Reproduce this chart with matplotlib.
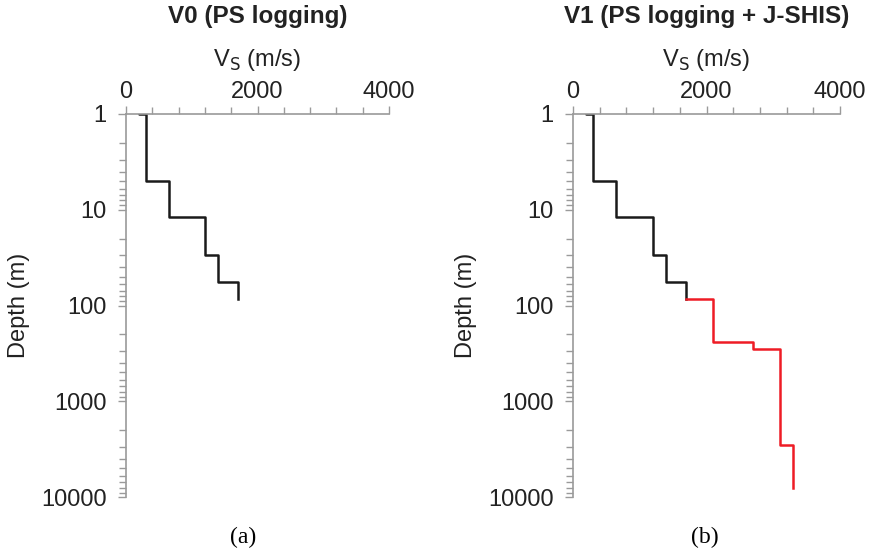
import numpy as np
import matplotlib.pyplot as plt

# PS logging layers (layer boundaries in m, Vs in m/s)
ps_depth = [0.5, 1, 5, 12, 30, 57, 85]
ps_vs = [200, 300, 650, 1200, 1400, 1700]

# J-SHIS deeper layers, start at the bottom of the PS log
jshis_depth = [85, 240, 285, 2880, 8100]
jshis_vs = [2100, 2700, 3100, 3300]

GRAY = '#9a9a9a'
FS = 17
plt.rcParams['font.family'] = ['Liberation Sans', 'DejaVu Sans']


def profile(depth, vs, v_start=None):
    # staircase: vertical segments at each Vs, horizontal at each boundary
    x, y = [], []
    if v_start is not None:
        x.append(v_start)
        y.append(depth[0])
    for i, v in enumerate(vs):
        x += [v, v]
        y += [depth[i], depth[i + 1]]
    return np.array(x), np.array(y)


def style_axes(ax, title, ylab_x):
    ax.set_yscale('log')
    ax.set_xlim(0, 4000)
    ax.set_ylim(10000, 1)
    ax.xaxis.tick_top()
    ax.xaxis.set_label_position('top')
    ax.set_xticks([0, 2000, 4000])
    ax.set_xticks(np.arange(0, 4001, 400), minor=True)
    ax.set_yticks([1, 10, 100, 1000, 10000])
    ax.set_yticklabels(['1', '10', '100', '1000', '10000'])
    for s in ['right', 'bottom']:
        ax.spines[s].set_visible(False)
    for s in ['left', 'top']:
        ax.spines[s].set_color(GRAY)
        ax.spines[s].set_linewidth(1.2)
    ax.tick_params(which='both', direction='out', color=GRAY, width=1.0,
                   labelsize=FS, labelcolor='#222222')
    ax.tick_params(which='major', length=6)
    ax.tick_params(which='minor', length=5)
    ax.tick_params(axis='x', pad=2)
    ax.tick_params(axis='y', pad=8)
    ax.set_xlabel('V$_\\mathrm{S}$ (m/s)', fontsize=FS, labelpad=11, color='#222222')
    ax.set_ylabel('Depth (m)', fontsize=FS, color='#222222')
    ax.yaxis.set_label_coords(ylab_x, 0.5)
    pos = ax.get_position()
    fig.text((pos.x0 + pos.x1) / 2, 1 - 17 / 557, title, fontsize=17.5,
             fontweight='bold', ha='center', va='center', color='#222222')


fig = plt.figure(figsize=(8.72, 5.57), dpi=100)
ax1 = fig.add_axes([126 / 872, 1 - 497 / 557, 263 / 872, 383 / 557])
ax2 = fig.add_axes([573 / 872, 1 - 497 / 557, 267 / 872, 383 / 557])

x, y = profile(ps_depth, ps_vs)
ax1.plot(x, y, color='#1a1a1a', lw=1.8)
ax2.plot(x, y, color='#1a1a1a', lw=1.8)
x, y = profile(jshis_depth, jshis_vs, v_start=ps_vs[-1])
ax2.plot(x, y, color='#ee1c25', lw=1.8)

style_axes(ax1, 'V0 (PS logging)', -(126 - 30) / 263)
style_axes(ax2, 'V1 (PS logging + J-SHIS)', -(573 - 477) / 267)

fig.text(243 / 872, 1 - 537 / 557, '(a)', family='Liberation Serif', fontsize=17,
         ha='center', va='center')
fig.text(705 / 872, 1 - 537 / 557, '(b)', family='Liberation Serif', fontsize=17,
         ha='center', va='center')

fig.savefig('out.png', dpi=100)
